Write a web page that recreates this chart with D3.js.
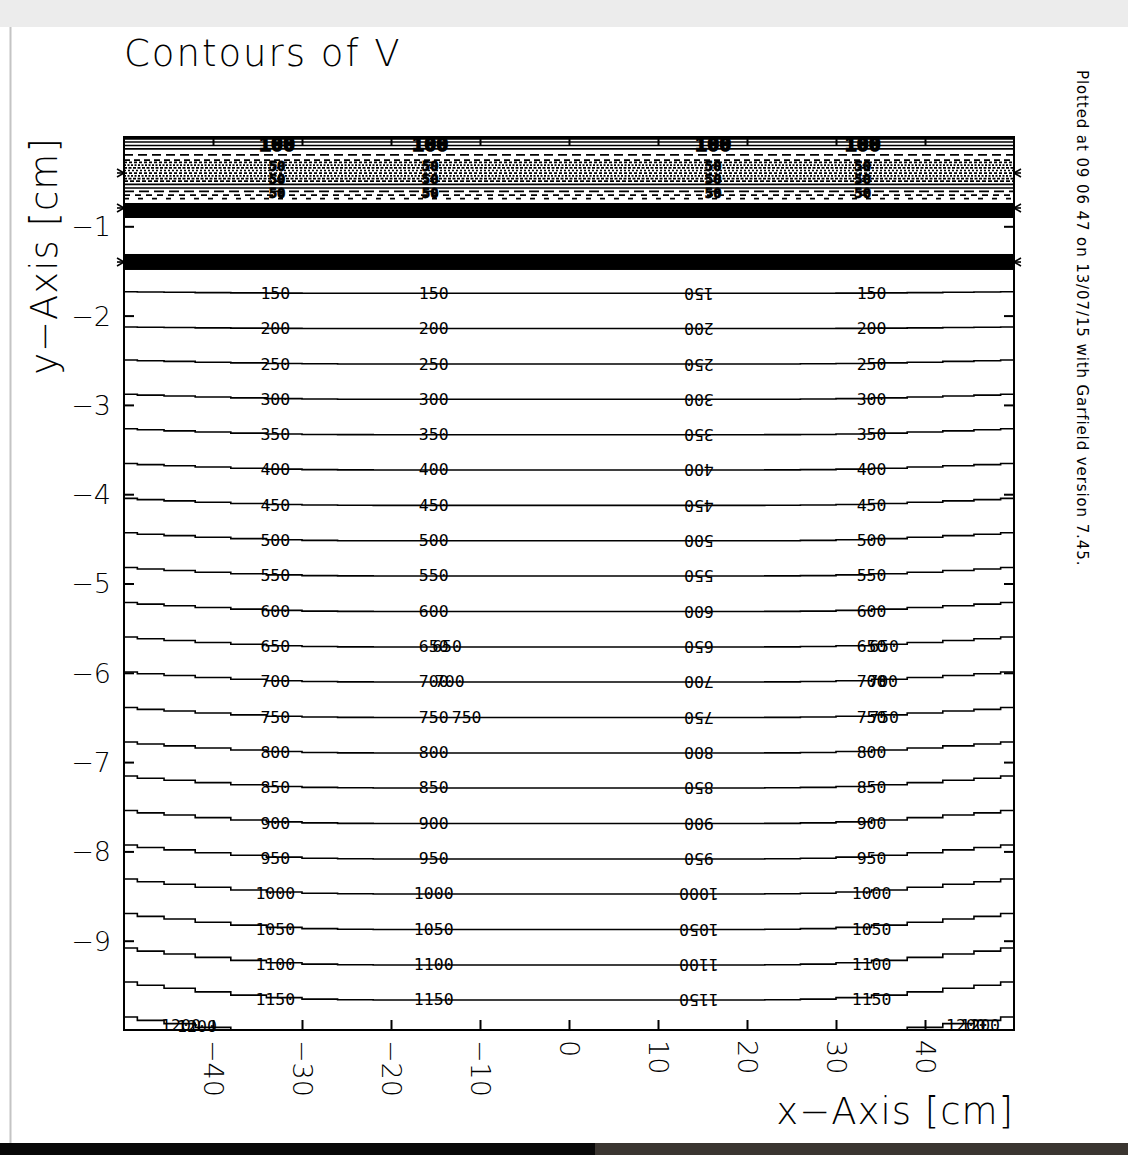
<!DOCTYPE html>
<html><head><meta charset="utf-8">
<script src="https://cdn.jsdelivr.net/npm/d3@7"></script>
<style>body{margin:0;background:#fff;} svg{display:block}</style>
</head><body>
<svg id="c" width="1128" height="1155"></svg>
<script>
// ---------------- data ----------------
const title = "Contours of V";
const xLabel = "x\u2212Axis [cm]";
const yLabel = "y\u2212Axis [cm]";
const stamp = "Plotted at 09 06 47 on 13/07/15 with Garfield version 7.45.";
const xDomain = [-50, 50];
const yDomain = [-10, 0];
const xTicks = [-40, -30, -20, -10, 0, 10, 20, 30, 40];
const yTicks = [-1, -2, -3, -4, -5, -6, -7, -8, -9];

// contour levels (V) and the y (cm) of each contour in the flat middle part
const levels = [150, 200, 250, 300, 350, 400, 450, 500, 550, 600, 650,
                700, 750, 800, 850, 900, 950, 1000, 1050, 1100, 1150, 1200];
const levelY = [-1.750, -2.145, -2.542, -2.937, -3.334, -3.729, -4.125, -4.522,
                -4.916, -5.314, -5.711, -6.103, -6.501, -6.898, -7.290, -7.688,
                -8.085, -8.477, -8.874, -9.272, -9.664, -10.067];
// how far (cm) each contour rises at the left/right borders
const edgeRise = [0.017, 0.017, 0.045, 0.056, 0.067, 0.073, 0.078, 0.090, 0.095,
                  0.101, 0.112, 0.112, 0.112, 0.123, 0.134, 0.146, 0.157, 0.168,
                  0.179, 0.190, 0.202, 0.213];
// shape of that rise along x (fraction of edgeRise)
const bendX    = [-50, -47, -44, -40, -36, -32, -28, -24, -20, 20, 24, 28, 32, 36, 40, 44, 47, 50];
const bendFrac = [1, 0.82, 0.65, 0.45, 0.27, 0.13, 0.05, 0.015, 0, 0, 0.015, 0.05, 0.13, 0.27, 0.45, 0.65, 0.82, 1];

// label columns (x in cm); third column is written upside down
const labelX = [-33, -15.2, 14.6, 34];
const labelFlip = [false, false, true, false];
// extra overlapping labels [level, x, y-or-null]
const extraLabels = [
  [650, -13.7, null], [700, -13.4, null], [750, -11.5, null],
  [650, 35.4, null], [700, 35.3, null], [750, 35.4, null],
  [1200, -43.6, -9.955], [1200, -41.8, -9.965],
  [1200, 44.6, -9.955], [1200, 46.2, -9.945]
];

// densely packed contours near the top (y in cm)
const topLineY = [-0.02, -0.056, -0.095, -0.134, -0.2, -0.258, -0.285, -0.315,
                  -0.345, -0.375, -0.405, -0.435, -0.465, -0.495, -0.53, -0.571,
                  -0.61, -0.65, -0.69];
// labels of the packed contours (column blobs)
const topLabelText = ["100", "50", "50", "50"];
const topLabelY = [-0.08, -0.32, -0.47, -0.63];
const topLabelX = [-32.8, -15.6, 16.2, 33];
// solid bands of contours (cm)
const bandTop = [-0.739, -1.310];
const bandBottom = [-0.907, -1.489];
// border markers (cm)
const starY = [-0.403, -0.795, -1.40];

// ---------------- styles ----------------
const topDash = ["", "", "", "", "9,5", "6,4", "3,2", "2,1.5", "3,1.5", "2,2",
                 "3,2", "2,1.5", "3,1.5", "4,2", "", "", "10,5", "6,5", "5,9"];
const FONT = "'DejaVu Sans', sans-serif";

// ---------------- drawing ----------------
const svg = d3.select("#c");
// page decoration
svg.append("rect").attr("x", 0).attr("y", 0).attr("width", 1128).attr("height", 27).attr("fill", "#ececec");
svg.append("line").attr("x1", 10.5).attr("x2", 10.5).attr("y1", 27).attr("y2", 1143).attr("stroke", "#c4c4c4").attr("stroke-width", 2);
svg.append("rect").attr("x", 0).attr("y", 1143).attr("width", 1128).attr("height", 12).attr("fill", "#080808");
svg.append("rect").attr("x", 595).attr("y", 1143).attr("width", 533).attr("height", 12).attr("fill", "#3a3530");

const L = 124, R = 1014, T = 137, B = 1030;
const x = d3.scaleLinear(xDomain, [L, R]);
const y = d3.scaleLinear(yDomain, [B, T]);

svg.append("clipPath").attr("id", "clip").append("rect")
  .attr("x", L).attr("y", T).attr("width", R - L).attr("height", B - T);

const plot = svg.append("g").attr("clip-path", "url(#clip)");

const line = d3.line().x(d => x(d[0])).y(d => y(d[1])).curve(d3.curveStep);

// bands
bandTop.forEach((t, i) => {
  plot.append("rect").attr("x", x(-50)).attr("width", x(50) - x(-50))
    .attr("y", y(t)).attr("height", y(bandBottom[i]) - y(t)).attr("fill", "#000");
});

// top dense lines
topLineY.forEach((v, i) => {
  plot.append("path").attr("d", line([[-50, v], [50, v]]))
    .attr("fill", "none").attr("stroke", "#000").attr("stroke-width", 1.7)
    .attr("stroke-dasharray", topDash[i] || null);
});
// top label clusters
topLabelY.forEach((v, i) => {
  topLabelX.forEach(cx => {
    svg.append("text").attr("x", x(cx)).attr("y", y(v))
      .attr("text-anchor", "middle").attr("dominant-baseline", "central")
      .attr("font-family", "'DejaVu Sans Mono', monospace")
      .attr("font-weight", "bold")
      .attr("font-size", i === 0 ? 20 : 14).attr("fill", "#000")
      .attr("stroke", "#000").attr("stroke-width", i === 0 ? 1.6 : 0.8)
      .text(topLabelText[i]);
  });
});

// main contours
levels.forEach((lv, i) => {
  const pts = bendX.map((bx, j) => [bx, levelY[i] + edgeRise[i] * bendFrac[j]]);
  plot.append("path").attr("d", line(pts))
    .attr("fill", "none").attr("stroke", "#000").attr("stroke-width", 1.6);
});

// labels
function addLabel(txt, cx, cy, flip) {
  const t = svg.append("text")
    .attr("text-anchor", "middle").attr("dominant-baseline", "central")
    .attr("font-family", "'DejaVu Sans Mono', monospace").attr("font-size", 16.5)
    .attr("fill", "#000").text(txt);
  if (flip) t.attr("transform", `translate(${x(cx)},${y(cy)}) rotate(180)`);
  else t.attr("x", x(cx)).attr("y", y(cy));
}
levels.forEach((lv, i) => {
  if (lv === 1200) return;
  labelX.forEach((cx, c) => addLabel(String(lv), cx, levelY[i], labelFlip[c]));
});
extraLabels.forEach(([lv, cx, cy]) => {
  const i = levels.indexOf(lv);
  addLabel(String(lv), cx, cy === null ? levelY[i] : cy, false);
});

// frame
svg.append("rect").attr("x", L).attr("y", T).attr("width", R - L).attr("height", B - T)
  .attr("fill", "none").attr("stroke", "#000").attr("stroke-width", 2);

// border star markers
starY.forEach(v => {
  [[L, -1], [R, 1]].forEach(([ex, dir]) => {
    const g = svg.append("g").attr("stroke", "#000").attr("stroke-width", 1.6);
    [-4, 0, 4].forEach(dy => {
      g.append("line").attr("x1", ex).attr("y1", y(v)).attr("x2", ex + dir * 7).attr("y2", y(v) + dy);
    });
  });
});

// axes
function styleAxis(g) {
  g.select(".domain").remove();
  g.selectAll(".tick line").attr("stroke", "#000").attr("stroke-width", 2);
}
const yAxis = svg.append("g").attr("transform", `translate(${L},0)`)
  .call(d3.axisLeft(y).tickValues(yTicks).tickSize(-10).tickPadding(13));
styleAxis(yAxis);
yAxis.selectAll(".tick text").attr("font-family", FONT).attr("font-weight", 200)
  .attr("font-size", 27).attr("fill", "#000").attr("dy", "0.35em");

const yAxisR = svg.append("g").attr("transform", `translate(${R},0)`)
  .call(d3.axisRight(y).tickValues(yTicks).tickSize(-10).tickFormat(""));
styleAxis(yAxisR);

const xAxis = svg.append("g").attr("transform", `translate(0,${B})`)
  .call(d3.axisBottom(x).tickValues(xTicks).tickSize(-10));
styleAxis(xAxis);
xAxis.selectAll(".tick text")
  .attr("font-family", FONT).attr("font-weight", 200).attr("font-size", 27).attr("fill", "#000")
  .attr("y", null).attr("dy", null)
  .attr("text-anchor", "start").attr("dominant-baseline", "central")
  .attr("transform", "translate(0,10) rotate(90)");

const xAxisT = svg.append("g").attr("transform", `translate(0,${T})`)
  .call(d3.axisTop(x).tickValues(xTicks).tickSize(-9).tickFormat(""));
styleAxis(xAxisT);

// titles
svg.append("text").attr("x", 124).attr("y", 66).attr("font-family", FONT).attr("font-weight", 200)
  .attr("font-size", 37).attr("fill", "#000").attr("letter-spacing", 2).text(title);
svg.append("text").attr("x", R).attr("y", 1124).attr("text-anchor", "end")
  .attr("font-family", FONT).attr("font-weight", 200).attr("font-size", 37).attr("fill", "#000")
  .attr("letter-spacing", 1).text(xLabel);
svg.append("text").attr("transform", "translate(57,256) rotate(-90)").attr("text-anchor", "middle")
  .attr("font-family", FONT).attr("font-weight", 200).attr("font-size", 37).attr("fill", "#000")
  .attr("letter-spacing", 1).text(yLabel);
svg.append("text").attr("transform", "translate(1077,70) rotate(90)").attr("text-anchor", "start")
  .attr("font-family", FONT).attr("font-size", 15).attr("fill", "#000")
  .attr("letter-spacing", 0.9).text(stamp);
</script>
</body></html>
